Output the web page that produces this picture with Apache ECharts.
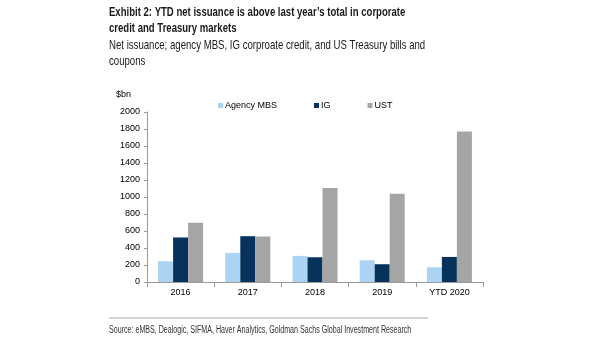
<!DOCTYPE html>
<html><head><meta charset="utf-8">
<script src="https://cdn.jsdelivr.net/npm/echarts@6/dist/echarts.min.js"></script>
<style>html,body{margin:0;padding:0;background:#fff}#c{width:605px;height:341px}</style>
</head><body><div id="c"></div>
<script>
const categories = ['2016', '2017', '2018', '2019', 'YTD 2020'];
const agencyMBS = [244, 343, 307, 256, 173];
const ig = [524, 539, 291, 209, 295];
const ust = [697, 535, 1106, 1039, 1770];
const yTicks = [0, 200, 400, 600, 800, 1000, 1200, 1400, 1600, 1800, 2000];

const chart = echarts.init(document.getElementById('c'));
const mk = (name, data, color) => ({
  name, type: 'bar', data, barWidth: 15, barGap: '0%',
  itemStyle: { color }, emphasis: { disabled: true }
});
chart.setOption({
  animation: false,
  graphic: [
    { type: 'text', x: 109, y: 4, scaleX: 0.735,
      style: { text: 'Exhibit 2: YTD net issuance is above last year\u2019s total in corporate\ncredit and Treasury markets',
        font: 'bold 13px "Liberation Sans", sans-serif', lineHeight: 16.5, fill: '#1a1a1a', verticalAlign: 'top' } },
    { type: 'text', x: 109, y: 37, scaleX: 0.74,
      style: { text: 'Net issuance; agency MBS, IG corproate credit, and US Treasury bills and\ncoupons',
        font: '13px "Liberation Sans", sans-serif', lineHeight: 16.5, fill: '#1a1a1a', verticalAlign: 'top' } },
    { type: 'line', shape: { x1: 109, y1: 318, x2: 428, y2: 318 }, style: { stroke: '#aaa', lineWidth: 1 } },
    { type: 'text', x: 109, y: 325, scaleX: 0.71,
      style: { text: 'Source: eMBS, Dealogic, SIFMA, Haver Analytics, Goldman Sachs Global Investment Research',
        font: '10px "Liberation Sans", sans-serif', fill: '#333', verticalAlign: 'top' } },
    { type: 'text', x: 116, y: 90, style: { text: '$bn', font: '9px "Liberation Sans"', fill: '#000' } }
  ],
  legend: {
    left: 213, top: 96, itemWidth: 5, itemHeight: 5, itemGap: 37,
    icon: 'rect',
    textStyle: { fontFamily: 'Liberation Sans', fontSize: 9, color: '#000', padding: [0, 0, 0, -3] },
    data: ['Agency MBS', 'IG', 'UST']
  },
  grid: { left: 147, right: 122, top: 112, bottom: 59, containLabel: false },
  xAxis: {
    type: 'category', data: categories,
    axisLine: { lineStyle: { color: '#999' } },
    axisTick: { show: true, alignWithLabel: false, lineStyle: { color: '#999' } },
    axisLabel: { fontFamily: 'Liberation Sans', fontSize: 9, color: '#000', margin: 6 }
  },
  yAxis: {
    type: 'value', min: 0, max: 2000, interval: 200,
    axisLine: { show: true, lineStyle: { color: '#999' } },
    axisTick: { show: true, length: 3, lineStyle: { color: '#999' } },
    splitLine: { show: false },
    axisLabel: { fontFamily: 'Liberation Sans', fontSize: 9, color: '#000', margin: 7,
      formatter: v => yTicks.includes(v) ? String(v) : '' }
  },
  series: [
    mk('Agency MBS', agencyMBS, '#acd3f1'),
    mk('IG', ig, '#07325b'),
    mk('UST', ust, '#a5a5a5')
  ]
});
</script></body></html>
